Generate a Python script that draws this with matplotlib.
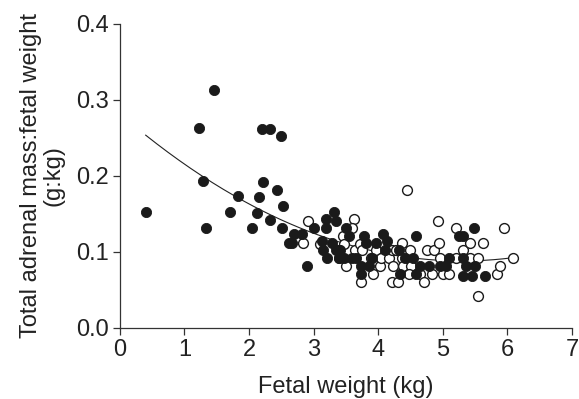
import matplotlib
matplotlib.use("Agg")
import matplotlib.pyplot as plt
import numpy as np

plt.rcParams['font.family'] = ['Liberation Sans', 'DejaVu Sans']

filled_x = [0.40, 1.23, 1.46, 1.29, 1.33, 1.71, 1.83, 2.05, 2.13, 2.15, 2.22, 2.20, 2.33, 2.49,
            2.32, 2.43, 2.51, 2.53, 2.62, 2.66, 2.69, 2.82, 2.90, 3.00, 3.19, 3.19, 3.32, 3.34,
            3.13, 3.14, 3.21, 3.29, 3.34, 3.39, 3.41, 3.50, 3.54, 3.39, 3.40, 3.47, 3.60, 3.66,
            3.73, 3.74, 3.78, 3.81, 3.86, 3.91, 3.97, 4.08, 4.14, 4.10, 4.32, 4.34, 4.42, 4.54,
            4.58, 4.58, 4.65, 4.79, 4.96, 5.05, 5.10, 5.25, 5.31, 5.31, 5.31, 5.36, 5.48, 5.45,
            5.50, 5.65]
filled_y = [0.153, 0.263, 0.313, 0.193, 0.132, 0.153, 0.174, 0.132, 0.151, 0.172, 0.192, 0.262, 0.262, 0.252,
            0.142, 0.182, 0.132, 0.160, 0.112, 0.112, 0.123, 0.123, 0.082, 0.132, 0.144, 0.132, 0.153, 0.141,
            0.115, 0.103, 0.092, 0.112, 0.103, 0.092, 0.103, 0.132, 0.121, 0.102, 0.092, 0.092, 0.092, 0.092,
            0.071, 0.082, 0.121, 0.112, 0.082, 0.092, 0.112, 0.123, 0.115, 0.103, 0.103, 0.071, 0.092, 0.092,
            0.121, 0.071, 0.082, 0.082, 0.082, 0.082, 0.092, 0.121, 0.121, 0.092, 0.069, 0.082, 0.131, 0.069,
            0.082, 0.069]

open_x = [2.92, 2.83, 3.10, 3.46, 3.47, 3.50, 3.63, 3.60, 3.64, 3.71, 3.75, 3.74, 3.88, 3.92, 3.97,
          4.03, 4.05, 4.17, 4.21, 4.23, 4.21, 4.30, 4.27, 4.37, 4.37, 4.38, 4.44, 4.49, 4.51, 4.47,
          4.64, 4.71, 4.76, 4.83, 4.87, 4.93, 4.94, 4.96, 5.01, 5.10, 5.21, 5.21, 5.31, 5.42, 5.42,
          5.54, 5.55, 5.62, 5.84, 5.89, 5.95, 6.09]
open_y = [0.141, 0.112, 0.110, 0.121, 0.110, 0.082, 0.143, 0.131, 0.102, 0.111, 0.102, 0.061, 0.092, 0.071, 0.102,
          0.082, 0.092, 0.092, 0.102, 0.082, 0.061, 0.061, 0.102, 0.112, 0.092, 0.082, 0.182, 0.102, 0.082, 0.071,
          0.071, 0.061, 0.102, 0.071, 0.102, 0.141, 0.112, 0.092, 0.071, 0.071, 0.131, 0.092, 0.102, 0.112, 0.092,
          0.092, 0.042, 0.112, 0.071, 0.082, 0.131, 0.092]

# quadratic regression coefficients
fit_coeffs = [0.0069, -0.0731, 0.2818]
fit_range = [0.4, 6.1]

x_ticks = [0, 1, 2, 3, 4, 5, 6, 7]
y_ticks = [0.0, 0.1, 0.2, 0.3, 0.4]

fig = plt.figure(figsize=(5.79, 3.99), dpi=100)
ax = fig.add_axes([0.207, 0.178, 0.781, 0.762])

xs = np.linspace(fit_range[0], fit_range[1], 200)
ax.plot(xs, np.polyval(fit_coeffs, xs), color='#222222', lw=0.8, zorder=1)

ax.scatter(filled_x, filled_y, s=54, facecolor='#1a1a1a', edgecolor='#1a1a1a', linewidths=0.6, zorder=3)
ax.scatter(open_x, open_y, s=50, facecolor='white', edgecolor='#1a1a1a', linewidths=1.0, zorder=2)

ax.set_xlim(0, 7)
ax.set_ylim(0, 0.4)
ax.set_xticks(x_ticks)
ax.set_yticks(y_ticks)
ax.set_yticklabels([f"{v:.1f}" for v in y_ticks])
ax.spines['top'].set_visible(False)
ax.spines['right'].set_visible(False)
for s in ['left', 'bottom']:
    ax.spines[s].set_linewidth(0.9)
    ax.spines[s].set_color('#333333')
ax.tick_params(direction='out', length=5, width=0.9, labelsize=17, colors='#333333',
               labelcolor='#222222', pad=3)
ax.set_xlabel('Fetal weight (kg)', fontsize=17, color='#222222', labelpad=11)
ax.set_ylabel('Total adrenal mass:fetal weight\n(g:kg)', fontsize=17, color='#222222',
              labelpad=8, linespacing=1.05)

fig.savefig('out.png', dpi=100)
